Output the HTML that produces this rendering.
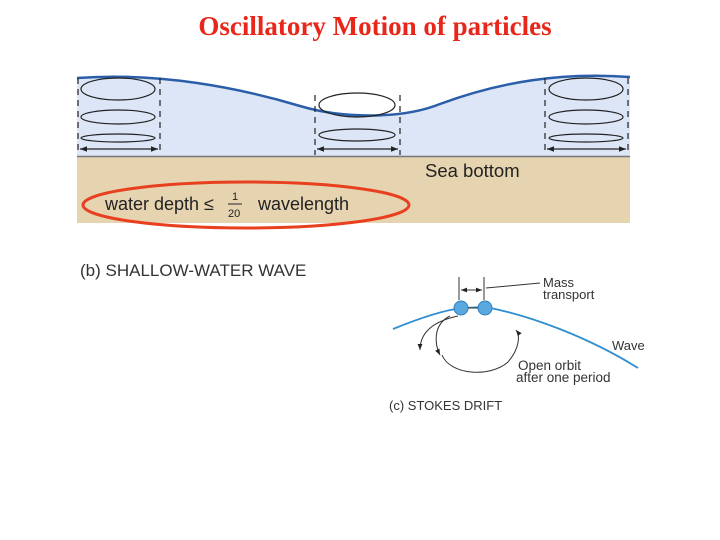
<!DOCTYPE html>
<html><head><style>
body{margin:0;width:720px;height:540px;background:#fff;overflow:hidden}
svg{display:block}
text{font-family:"Liberation Sans",sans-serif}
</style></head><body>
<svg width="720" height="540" viewBox="0 0 720 540" xmlns="http://www.w3.org/2000/svg">
<defs><marker id="a" viewBox="0 0 10 10" refX="10" refY="5" markerWidth="6" markerHeight="6" orient="auto-start-reverse"><path d="M0,1 L10,5 L0,9z" fill="#222"/></marker></defs>
<text x="375" y="35" text-anchor="middle" font-weight="bold" font-size="27" fill="#e8261a" style="font-family:'Liberation Serif',serif">Oscillatory Motion of particles</text>
<path d="M77,78 C160,72 240,88 300,106 C340,118 400,120 440,104 C500,82 560,72 630,77 L630,156 L77,156Z" fill="#dde6f6"/>
<rect x="77" y="157" width="553" height="66" fill="#e6d3b0"/>
<line x1="77" y1="156.5" x2="630" y2="156.5" stroke="#777" stroke-width="1.5"/>
<path d="M77,78 C160,72 240,88 300,106 C340,118 400,120 440,104 C500,82 560,72 630,77" fill="none" stroke="#2a5ea8" stroke-width="2.5"/>
<g fill="none" stroke="#222" stroke-width="1.2">
<ellipse cx="118" cy="89" rx="37" ry="11"/><ellipse cx="118" cy="117" rx="37" ry="7"/><ellipse cx="118" cy="138" rx="37" ry="4"/>
<ellipse cx="357" cy="105" rx="38" ry="12"/><ellipse cx="357" cy="135" rx="38" ry="6"/>
<ellipse cx="586" cy="89" rx="37" ry="11"/><ellipse cx="586" cy="117" rx="37" ry="7"/><ellipse cx="586" cy="138" rx="37" ry="4"/>
<g stroke-dasharray="6,5"><line x1="78" y1="78" x2="78" y2="155"/><line x1="160" y1="78" x2="160" y2="155"/><line x1="315" y1="95" x2="315" y2="155"/><line x1="400" y1="95" x2="400" y2="155"/><line x1="545" y1="78" x2="545" y2="155"/><line x1="628" y1="78" x2="628" y2="155"/></g>
<line x1="80" y1="149" x2="158" y2="149" marker-end="url(#a)" marker-start="url(#a)"/>
<line x1="317" y1="149" x2="398" y2="149" marker-end="url(#a)" marker-start="url(#a)"/>
<line x1="547" y1="149" x2="626" y2="149" marker-end="url(#a)" marker-start="url(#a)"/>
</g>
<text x="425" y="177" font-size="18.5" fill="#222">Sea bottom</text>
<text x="105" y="210" font-size="18" fill="#222">water depth ≤</text>
<text x="232" y="200" font-size="11" fill="#222">1</text><line x1="228" y1="204" x2="242" y2="204" stroke="#222"/><text x="228" y="217" font-size="11" fill="#222">20</text>
<text x="258" y="210" font-size="18" fill="#222">wavelength</text>
<ellipse cx="246" cy="205" rx="163" ry="23" fill="none" stroke="#e8401f" stroke-width="3"/>
<text x="80" y="276" font-size="17" fill="#333">(b) SHALLOW-WATER WAVE</text>
<path d="M393,329 C420,318 445,310 462,308 L485,307 C530,315 590,338 638,368" fill="none" stroke="#2f8fd0" stroke-width="1.8"/>
<line x1="459" y1="277" x2="459" y2="300" stroke="#333"/><line x1="484" y1="277" x2="484" y2="300" stroke="#333"/>
<line x1="461" y1="290" x2="482" y2="290" stroke="#333" marker-start="url(#a)" marker-end="url(#a)"/>
<line x1="486" y1="288" x2="540" y2="283" stroke="#333"/>
<path d="M458,316 C430,322 420,335 420,350" fill="none" stroke="#333" marker-end="url(#a)"/>
<path d="M450,316 C432,325 435,345 440,355" fill="none" stroke="#333" marker-end="url(#a)"/>
<path d="M442,355 C450,375 490,378 508,362 C520,348 520,335 516,330" fill="none" stroke="#333" marker-end="url(#a)"/>
<circle cx="461" cy="308" r="7" fill="#5aa8e0" stroke="#2f7fbf"/><circle cx="485" cy="308" r="7" fill="#5aa8e0" stroke="#2f7fbf"/>
<line x1="468" y1="308" x2="478" y2="308" stroke="#333"/>
<text x="543" y="287" font-size="13" fill="#333">Mass</text><text x="543" y="299" font-size="13" fill="#333">transport</text>
<text x="612" y="350" font-size="13" fill="#333">Wave</text>
<text x="518" y="370" font-size="13.5" fill="#333">Open orbit</text><text x="516" y="382" font-size="13.5" fill="#333">after one period</text>
<text x="389" y="410" font-size="13" fill="#333">(c) STOKES DRIFT</text>
</svg>
</body></html>
